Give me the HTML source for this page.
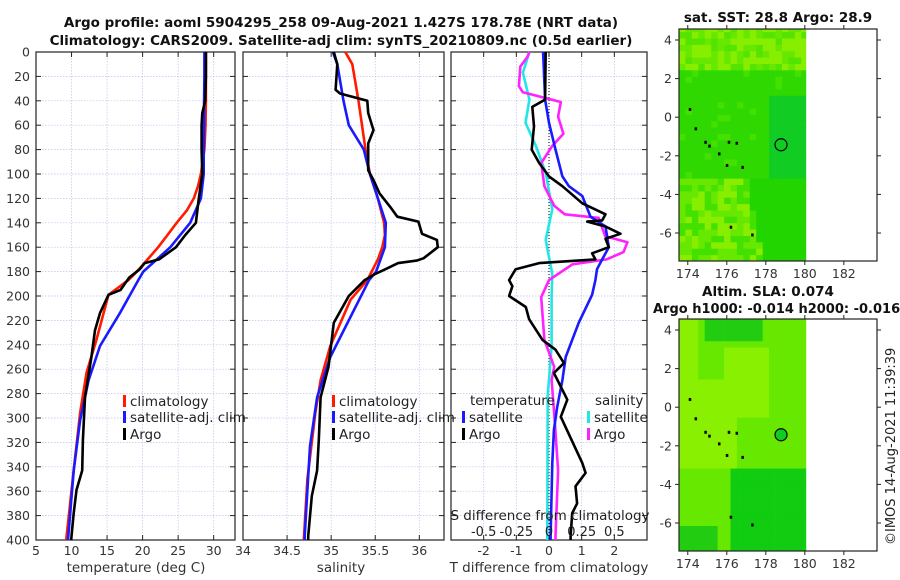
<!DOCTYPE html>
<html><head><meta charset="utf-8"><style>
html,body{margin:0;padding:0;background:#fff;width:900px;height:580px;overflow:hidden}
svg{display:block;font-family:"DejaVu Sans","Liberation Sans",sans-serif}
</style></head><body>
<svg id="chart" width="900" height="580" viewBox="0 0 900 580" xmlns="http://www.w3.org/2000/svg">
<g id="maps"></g><g id="panels"></g><g id="texts"></g>
</svg>
<script>
// ---------------- data ----------------
const tClimDepth = [0,20,40,60,80,100,110,120,130,140,150,160,170,180,187,199,236,263,296,343,397,400];
const tClimVal   = [28.9,28.9,28.9,28.85,28.7,28.2,27.8,27.2,26.2,24.8,23.5,22.2,20.7,19.2,18.0,15.2,13.5,12.1,11.2,10.3,9.3,9.25];
const tSatDepth  = [0,20,40,60,80,100,120,140,160,180,187,214,241,269,302,343,397,400];
const tSatVal    = [28.7,28.7,28.65,28.65,28.6,28.6,28.2,26.7,23.9,20.1,19.4,16.8,14.0,12.4,11.2,10.3,9.55,9.5];
const tArgoDepth = [0,20,40,50,60,80,100,120,135,140,150,160,170,173,178,185,195,199,214,228,250,283,318,343,359,378,397,400];
const tArgoVal   = [28.9,28.9,28.8,28.4,28.3,28.3,28.4,27.9,27.6,27.5,26.0,24.7,22.3,20.3,19.6,18.1,16.9,15.2,14.0,13.3,12.8,11.9,11.6,11.5,10.7,10.3,10.0,9.95];

const sClimDepth = [0,10,40,60,80,100,120,140,150,160,170,180,187,203,241,269,296,350,400];
const sClimVal   = [35.16,35.24,35.31,35.35,35.39,35.44,35.53,35.6,35.61,35.58,35.53,35.46,35.41,35.22,34.99,34.88,34.82,34.73,34.69];
const sSatDepth  = [0,10,40,60,80,100,120,140,160,180,187,250,283,323,397,400];
const sSatVal    = [35.02,35.07,35.14,35.2,35.37,35.44,35.53,35.62,35.61,35.51,35.43,34.99,34.84,34.76,34.70,34.70];
const sArgoDepth = [0,10,31,34,40,50,64,75,97,105,116,127,135,139,149,154,160,169,171,173,182,187,200,222,258,283,318,343,364,397,400];
const sArgoVal   = [35.03,35.07,35.05,35.1,35.41,35.42,35.48,35.42,35.42,35.48,35.55,35.67,35.75,35.99,36.03,36.2,36.21,36.05,35.97,35.76,35.5,35.38,35.2,35.03,34.97,34.88,34.86,34.84,34.78,34.74,34.74];

const dTSatDepth  = [0,39,58,80,102,110,118,135,143,160,170,178,187,199,222,250,269,291,310,337,397,400];
const dTSatVal    = [-0.18,-0.12,0,0.2,0.41,0.61,1.02,1.27,1.73,1.83,1.63,1.47,1.42,1.32,0.91,0.51,0.41,0.25,0.15,0.1,0.05,0.05];
const dTArgoDepth = [0,39,45,61,80,91,102,110,124,133,138,139,143,149,153,160,165,170,173,178,187,192,200,209,219,236,244,255,263,285,299,337,345,356,370,378,397,400];
const dTArgoVal   = [-0.1,-0.12,-0.51,-0.46,-0.53,-0.3,0,0.41,1.02,1.73,1.63,1.17,1.73,2.19,1.73,1.83,1.32,1.42,-0.3,-1.02,-1.22,-1.12,-1.22,-0.71,-0.61,-0.2,0.2,0.46,0.15,0.56,0.36,1.02,1.12,0.81,0.86,0.71,0.66,0.66];
const dSSatDepth  = [0,17,39,58,77,99,129,154,182,200,241,282,397,400];
const dSSatVal    = [-0.15,-0.20,-0.15,-0.18,-0.10,-0.025,0.025,-0.025,0.025,0.02,0.02,-0.01,-0.013,-0.013];
const dSArgoDepth = [0,4,12,28,33,41,53,67,77,91,110,126,133,136,151,156,164,170,174,187,201,236,258,269,296,343,397,400];
const dSArgoVal   = [-0.15,-0.165,-0.22,-0.23,-0.2,0.09,0.07,0.11,0.025,-0.06,-0.035,0.04,0.12,0.38,0.43,0.6,0.57,0.44,0.18,0,-0.06,-0.035,0.04,0.02,0.04,0.07,0.05,0.05];

const depthTicks = [0,20,40,60,80,100,120,140,160,180,200,220,240,260,280,300,320,340,360,380,400];
const tTicks = [5,10,15,20,25,30];
const sTicks = [34,34.5,35,35.5,36];
const sTickLabels = ["34","34.5","35","35.5","36"];
const dTTicks = [-2,-1,0,1,2];
const dSTicks = [-0.5,-0.25,0,0.25,0.5];
const dSTickLabels = ["-0.5","-0.25","0","0.25","0.5"];
const lonTicks = [174,176,178,180,182];
const latTicks = [4,2,0,-2,-4,-6];
const argoLon = 178.78, argoLat = -1.427;
const coastLon = [174.1,174.4,174.9,175.1,175.6,176.1,176.5,176.0,176.8,176.2,177.3];
const coastLat = [0.4,-0.6,-1.3,-1.5,-1.9,-1.3,-1.35,-2.5,-2.6,-5.7,-6.1];

// ---------------- helpers ----------------
const NS="http://www.w3.org/2000/svg";
function mk(tag,attrs,parent){const e=document.createElementNS(NS,tag);for(const k in attrs)e.setAttribute(k,attrs[k]);parent.appendChild(e);return e;}
const P=document.getElementById('panels'), T=document.getElementById('texts'), M=document.getElementById('maps');
const Y0=52,Y1=540;
function yD(d){return Y0+(d/400)*(Y1-Y0);}
function lin(a,b,p,q){return v=>p+(v-a)/(b-a)*(q-p);}

function panel(name,x0,x1,xs,ticks,labels,showY){
  const g=mk('g',{},P);
  
  
  ticks.forEach(t=>{const x=xs(t);
    const l=mk('line',{x1:x,x2:x,y1:Y0,y2:Y1,stroke:'#b8c4e8','stroke-width':0.7,'stroke-dasharray':'1.5,1.5'},g);
    
    mk('line',{x1:x,x2:x,y1:Y1,y2:Y1-5,stroke:'#222','stroke-width':1},g);
    mk('line',{x1:x,x2:x,y1:Y0,y2:Y0+5,stroke:'#222','stroke-width':1},g);});
  depthTicks.forEach(d=>{const y=yD(d);
    const l=mk('line',{x1:x0,x2:x1,y1:y,y2:y,stroke:'#b8c4e8','stroke-width':0.7,'stroke-dasharray':'1.5,1.5'},g);
    
    mk('line',{x1:x0,x2:x0+5,y1:y,y2:y,stroke:'#222','stroke-width':1},g);
    mk('line',{x1:x1,x2:x1-5,y1:y,y2:y,stroke:'#222','stroke-width':1},g);
    if(showY){const t=mk('text',{x:x0-6,y:y+4.5,'text-anchor':'end','font-size':12.5,fill:'#333'},T);t.textContent=d;
      }});
  ticks.forEach((t,i)=>{const tx=mk('text',{x:xs(t),y:555,'text-anchor':'middle','font-size':12.5,fill:'#333'},T);tx.textContent=labels[i];
    });
  const r=mk('rect',{x:x0,y:Y0,width:x1-x0,height:Y1-Y0,fill:'none',stroke:'#222','stroke-width':1.2},g);
  
  return g;
}
function series(g,name,depths,vals,xs,color,w){
  const pts=depths.map((d,i)=>xs(vals[i]).toFixed(1)+','+yD(d).toFixed(1)).join(' ');
  const p=mk('polyline',{points:pts,fill:'none',stroke:color,'stroke-width':w||2.6,'stroke-linejoin':'round'},g);
  
}
function txt(s,x,y,opts,name){const t=mk('text',Object.assign({x:x,y:y,'font-size':13,fill:'#222'},opts||{}),T);t.textContent=s;
  return t;}
function legend(x,y,color,label,name){
  const r=mk('rect',{x:x,y:y-11,width:3,height:12,fill:color},T);
  
  txt(label,x+7,y,{'font-size':13.5},name);
}

// ---------------- panel 1: temperature ----------------
const xT=lin(5,33,36,235);
const g1=panel('temperature-panel',36,235,xT,tTicks,tTicks.map(String),true);
series(g1,'temperature-climatology-line',tClimDepth,tClimVal,xT,'#ff1a00');
series(g1,'temperature-satellite-line',tSatDepth,tSatVal,xT,'#1a1aff');
series(g1,'temperature-argo-line',tArgoDepth,tArgoVal,xT,'#000');
legend(123,406,'#ff1a00','climatology','legend-climatology');
legend(123,422,'#1a1aff','satellite-adj. clim','legend-satellite');
legend(123,439,'#000','Argo','legend-argo');
txt('temperature (deg C)',136,572,{'text-anchor':'middle','font-size':13.5,fill:'#333'},'x-axis-title-temperature');

// ---------------- panel 2: salinity ----------------
const xS=lin(34,36.28,243,444);
const g2=panel('salinity-panel',243,444,xS,sTicks,sTickLabels,false);
series(g2,'salinity-climatology-line',sClimDepth,sClimVal,xS,'#ff1a00');
series(g2,'salinity-satellite-line',sSatDepth,sSatVal,xS,'#1a1aff');
series(g2,'salinity-argo-line',sArgoDepth,sArgoVal,xS,'#000');
legend(332,406,'#ff1a00','climatology','legend-climatology-s');
legend(332,422,'#1a1aff','satellite-adj. clim','legend-satellite-s');
legend(332,439,'#000','Argo','legend-argo-s');
txt('salinity',341,572,{'text-anchor':'middle','font-size':13.5,fill:'#333'},'x-axis-title-salinity');

// ---------------- panel 3: differences ----------------
const xD=lin(-3,3,451,647);
const xDS=v=>xD(v*4);
const g3=panel('difference-panel',451,647,xD,dTTicks,dTTicks.map(String),false);
const z=mk('line',{x1:xD(0),x2:xD(0),y1:Y0,y2:Y1,stroke:'#000','stroke-width':1,'stroke-dasharray':'1,2'},g3);

series(g3,'salinity-diff-satellite-line',dSSatDepth,dSSatVal,xDS,'#22e6e6');
series(g3,'salinity-diff-argo-line',dSArgoDepth,dSArgoVal,xDS,'#ff22ff');
series(g3,'temperature-diff-satellite-line',dTSatDepth,dTSatVal,xD,'#1a1aff');
series(g3,'temperature-diff-argo-line',dTArgoDepth,dTArgoVal,xD,'#000');
txt('temperature',470,405,{'font-size':13.5},'legend-title-temperature');
legend(462,422,'#1a1aff','satellite','legend-t-satellite');
legend(462,439,'#000','Argo','legend-t-argo');
txt('salinity',595,405,{'font-size':13.5},'legend-title-salinity');
legend(587,422,'#22e6e6','satellite','legend-s-satellite');
legend(587,439,'#ff22ff','Argo','legend-s-argo');
txt('S difference from climatology',550,520,{'text-anchor':'middle','font-size':13.5},'s-diff-axis-title');
dSTicks.forEach((v,i)=>txt(dSTickLabels[i],xDS(v),536,{'text-anchor':'middle','font-size':13},'s-diff-tick-label'));
txt('T difference from climatology',549,572,{'text-anchor':'middle','font-size':13.5,fill:'#333'},'x-axis-title-t-diff');

// ---------------- titles ----------------
txt('Argo profile: aoml 5904295_258 09-Aug-2021 1.427S 178.78E (NRT data)',341,27,{'text-anchor':'middle','font-size':13.5,'font-weight':'bold',fill:'#111'},'chart-title-line1');
txt('Climatology: CARS2009. Satellite-adj clim: synTS_20210809.nc (0.5d earlier)',341,45,{'text-anchor':'middle','font-size':13.5,'font-weight':'bold',fill:'#111'},'chart-title-line2');

// ---------------- maps ----------------
function hash(i,j){let h=(i*374761393+j*668265263)^0x5bd1e995;h=(h^(h>>>13))*1274126177;return ((h^(h>>>16))>>>0)/4294967296;}
function sstColor(lon,lat,n){
  if(lat>2.3) return n<0.4?'#88ee00':(n<0.8?'#66e800':'#55e400');
  if(lat<-3 && lon<177 - (lat+3)*0.2) return n<0.35?'#88ee00':(n<0.75?'#66e800':'#44e000');
  if(lon>178.3 && lat>-3.2 && lat<1.2) return '#11cc22';
  if(lat<-3) return '#22d400';
  return n<0.1?'#44e000':'#2ed800';
}
function slaColor(lon,lat,n){
  if(lat>3.3 && lon>174.8 && lon<177.8) return '#22cc11';
  if(lat<-3.1 && lon>176.2) return '#11cc11';
  if(lat<-6.2 && lon<175.5) return '#22cc11';
  if(lon<176.6 && lat>-3.2 && lat<1.4) return '#88f000';
  if(lon>175.8 && lon<178.2 && lat>-0.5 && lat<3.2) return '#88f000';
  if(lon<174.6 && lat>1.5) return '#88f000';
  return '#66e800';
}
function drawMap(name,top,bot,colorFn,filledCircle){
  const g=mk('g',{},M);
  
  const X0=679,X1=877;
  const xs=lin(173.55,183.7,X0,X1);
  const ys=lin(4.57,-7.45,top,bot);
  const step=0.33;
  for(let lon=173.55;lon<180;lon+=step){for(let lat=-7.45;lat<4.57;lat+=step){
    const i=Math.round(lon/step),j=Math.round(lat/step);
    const x=xs(lon),x2=Math.min(xs(Math.min(lon+step,180.05)),xs(180.05));
    const y=ys(Math.min(lat+step,4.57)),y2=ys(lat);
    mk('rect',{x:x.toFixed(1),y:y.toFixed(1),width:(x2-x+0.4).toFixed(1),height:(y2-y+0.4).toFixed(1),fill:colorFn(lon+step/2,lat+step/2,hash(i,j))},g);
  }}
  coastLon.forEach((lo,k)=>{const c=mk('rect',{x:xs(lo)-1,y:ys(coastLat[k])-1.5,width:2.5,height:3,fill:'#000'},g);
    });
  const c=mk('circle',{cx:xs(argoLon),cy:ys(argoLat),r:6,fill:filledCircle?'#11cc22':'none',stroke:'#000','stroke-width':1.2},g);
  
  const fr=mk('rect',{x:X0,y:top,width:X1-X0,height:bot-top,fill:'none',stroke:'#222','stroke-width':1.2},g);
  
  lonTicks.forEach(v=>{const x=xs(v);mk('line',{x1:x,x2:x,y1:bot,y2:bot+4,stroke:'#222'},g);mk('line',{x1:x,x2:x,y1:top,y2:top-4,stroke:'#222'},g);
    txt(String(v),x,bot+17,{'text-anchor':'middle','font-size':12.5,fill:'#333'},'map-lon-tick-label');});
  latTicks.forEach(v=>{const y=ys(v);mk('line',{x1:X0,x2:X0-4,y1:y,y2:y,stroke:'#222'},g);mk('line',{x1:X1,x2:X1+4,y1:y,y2:y,stroke:'#222'},g);
    txt(String(v),X0-7,y+4.5,{'text-anchor':'end','font-size':12.5,fill:'#333'},'map-lat-tick-label');});
  return g;
}
drawMap('sst-map',29,261,sstColor,false);
drawMap('sla-map',319,551,slaColor,true);
txt('sat. SST: 28.8 Argo: 28.9',778,22,{'text-anchor':'middle','font-size':13.5,'font-weight':'bold',fill:'#111'},'sst-map-title');
txt('Altim. SLA: 0.074',768,296,{'text-anchor':'middle','font-size':13.5,'font-weight':'bold',fill:'#111'},'sla-map-title');
txt('Argo h1000: -0.014 h2000: -0.016',653,313,{'font-size':13,'font-weight':'bold',fill:'#111'},'sla-map-subtitle');
txt('©IMOS 14-Aug-2021 11:39:39',895,545,{'font-size':13,fill:'#222',transform:'rotate(-90 895 545)'},'copyright-timestamp');
</script>
</body></html>
